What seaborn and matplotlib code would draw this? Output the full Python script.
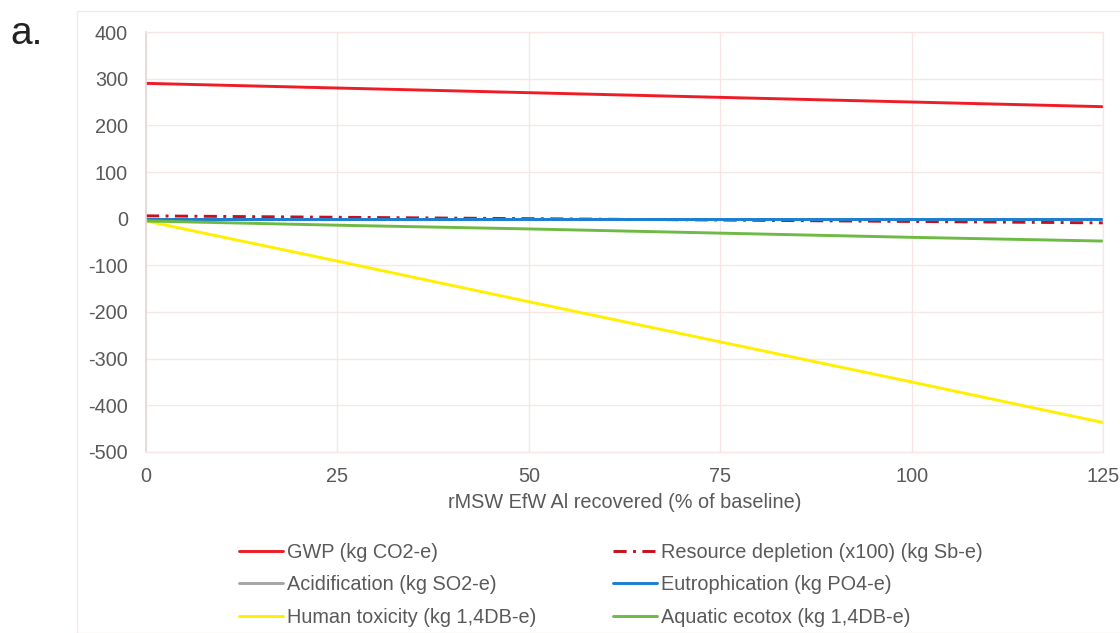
import matplotlib
matplotlib.use("Agg")
import matplotlib.pyplot as plt
from matplotlib.patches import Rectangle
import seaborn as sns
import pandas as pd

# ---- data ----
x_pct = [0, 25, 50, 75, 100, 125]
gwp = [290, 280, 270, 260, 250, 240]
resource_depletion = [6, 3, 0, -3, -6, -9]
acidification = [-0.5, -0.5, -0.5, -0.5, -0.5, -0.5]
eutrophication = [-0.5, -0.5, -0.5, -0.5, -0.5, -0.5]
human_toxicity = [-5, -91, -178, -264, -350, -437]
aquatic_ecotox = [-5, -14, -22, -31, -40, -48]

series_names = [
    "GWP (kg CO2-e)",
    "Resource depletion (x100) (kg Sb-e)",
    "Acidification (kg SO2-e)",
    "Eutrophication (kg PO4-e)",
    "Human toxicity (kg 1,4DB-e)",
    "Aquatic ecotox (kg 1,4DB-e)",
]
series_values = [gwp, resource_depletion, acidification, eutrophication,
                 human_toxicity, aquatic_ecotox]
y_ticks = [400, 300, 200, 100, 0, -100, -200, -300, -400, -500]
x_ticks = [0, 25, 50, 75, 100, 125]

colors = ["#ee1c24", "#c8101a", "#a5a5a5", "#1a7fd0", "#fff000", "#6fba45"]
styles = ["-", (0, (4.5, 2.2, 1.0, 2.2)), "-", "-", "-", "-"]

sns.set_theme(style="white")
plt.rcParams["font.family"] = ["Liberation Sans", "DejaVu Sans"]
plt.rcParams["axes.unicode_minus"] = False

fig = plt.figure(figsize=(11.2, 6.33), dpi=100)
ax = fig.add_axes([0.1304, 0.286, 0.8544, 0.6634])

# outer chart frame
fig.patches.append(Rectangle((77 / 1120, 0), 1 - 77 / 1120 + 0.01, 1 - 11 / 633,
                             transform=fig.transFigure, fill=False,
                             edgecolor="#f6e8e6", linewidth=1.0))

for name, vals, c, ls in zip(series_names, series_values, colors, styles):
    df = pd.DataFrame({"x": x_pct, "y": vals})
    sns.lineplot(data=df, x="x", y="y", ax=ax, color=c, linewidth=2.1,
                 label=name, linestyle=ls)

ax.set_xlim(0, 125)
ax.set_ylim(-500, 400)
ax.set_xticks(x_ticks)
ax.set_yticks(y_ticks)
ax.grid(True, color="#f8e6e6", linewidth=1.0)
ax.set_axisbelow(True)
for s in ["top", "right", "bottom"]:
    ax.spines[s].set_color("#f8e6e6")
    ax.spines[s].set_linewidth(1.0)
ax.spines["left"].set_color("#e8d6d6")
ax.spines["left"].set_linewidth(1.2)
ax.tick_params(axis="both", length=0, labelsize=14.3, colors="#595959")
ax.tick_params(axis="y", pad=13)
ax.tick_params(axis="x", pad=11)
ax.set_xlabel("rMSW EfW Al recovered (% of baseline)", fontsize=14.3,
              color="#595959", labelpad=5)
ax.set_ylabel("")

handles, labels = ax.get_legend_handles_labels()
order = [0, 2, 4, 1, 3, 5]
leg = fig.legend([handles[i] for i in order], [labels[i] for i in order],
                 ncol=2, frameon=False, fontsize=14.3, loc="upper left",
                 bbox_to_anchor=(221 / 1120, 1 - 525 / 633),
                 handlelength=2.2, handletextpad=0.2, columnspacing=3.9,
                 labelspacing=0.68)
for t in leg.get_texts():
    t.set_color("#595959")
if ax.get_legend():
    ax.get_legend().remove()

fig.text(10 / 1120, 1 - 34 / 633, "a.", fontsize=28, color="#222222",
         va="center", ha="left")

fig.savefig("out.png", dpi=100)
